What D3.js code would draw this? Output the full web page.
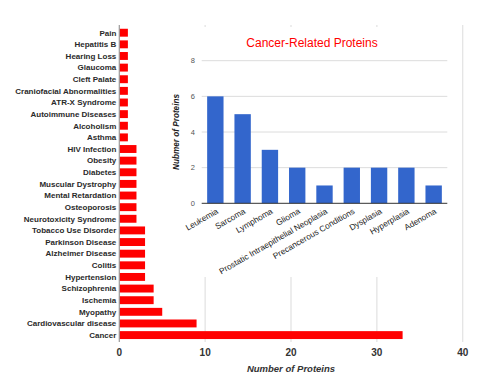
<!DOCTYPE html>
<html><head><meta charset="utf-8">
<script src="https://cdn.jsdelivr.net/npm/d3@7"></script>
<style>body{margin:0;background:#fff}svg{display:block}</style>
</head><body>
<svg id="c" width="490" height="380"></svg>
<script>
const diseases = ["Pain","Hepatitis B","Hearing Loss","Glaucoma","Cleft Palate","Craniofacial Abnormalities","ATR-X Syndrome","Autoimmune Diseases","Alcoholism","Asthma","HIV Infection","Obesity","Diabetes","Muscular Dystrophy","Mental Retardation","Osteoporosis","Neurotoxicity Syndrome","Tobacco Use Disorder","Parkinson Disease","Alzheimer Disease","Colitis","Hypertension","Schizophrenia","Ischemia","Myopathy","Cardiovascular disease","Cancer"];
const diseaseCounts = [1,1,1,1,1,1,1,1,1,1,2,2,2,2,2,2,2,3,3,3,3,3,4,4,5,9,33];
const mainTicks = [0,10,20,30,40];

const cancers = ["Leukemia","Sarcoma","Lymphoma","Glioma","Prostatic Intraepithelial Neoplasia","Precancerous Conditions","Dysplasia","Hyperplasia","Adenoma"];
const cancerCounts = [6,5,3,2,1,2,2,2,1];
const insetTicks = [0,2,4,6,8];

const svg = d3.select("#c");
const font = "Liberation Sans, Arial, sans-serif";

// main chart
const x = d3.scaleLinear().domain([0,40]).range([119.3,462.7]);
const y = d3.scaleBand().domain(diseases).range([26.9,340.9]).paddingInner(0.32).paddingOuter(0.16);

// grid
svg.append("g").selectAll("line").data(mainTicks.slice(1)).join("line")
  .attr("x1",d=>x(d)).attr("x2",d=>x(d)).attr("y1",25).attr("y2",342)
  .attr("stroke","#e4e4e4").attr("stroke-width",1.3);

// bars
svg.append("g").selectAll("rect").data(diseases).join("rect")
  .attr("x",x(0)).attr("y",d=>y(d))
  .attr("width",(d,i)=>x(diseaseCounts[i])-x(0))
  .attr("height",y.bandwidth())
  .attr("fill","#ff0000");

// axis line
svg.append("line").attr("x1",x(0)).attr("x2",x(0)).attr("y1",25).attr("y2",342)
  .attr("stroke","#9a9a9a").attr("stroke-width",1.2);

// category labels
svg.append("g").selectAll("text").data(diseases).join("text")
  .attr("x",x(0)-3).attr("y",d=>y(d)+y.bandwidth()/2)
  .attr("dy","0.35em").attr("text-anchor","end")
  .attr("font-family",font).attr("font-weight","bold").attr("font-size",8)
  .attr("fill","#2a2a2a").text(d=>d);

// x tick labels
svg.append("g").selectAll("text").data(mainTicks).join("text")
  .attr("x",d=>x(d)).attr("y",356).attr("text-anchor","middle")
  .attr("font-family",font).attr("font-weight","bold").attr("font-size",10)
  .attr("fill","#333").text(d=>d);

svg.append("text").attr("x",291).attr("y",372).attr("text-anchor","middle")
  .attr("font-family",font).attr("font-weight","bold").attr("font-style","italic")
  .attr("font-size",9.5).attr("fill","#333").text("Number of Proteins");

// inset
const inset = svg.append("g");
inset.append("rect").attr("x",162).attr("y",27).attr("width",294).attr("height",250).attr("fill","#fff");

const xi = d3.scaleBand().domain(cancers).range([201.7,447.3]).paddingInner(0.4).paddingOuter(0.2);
const yi = d3.scaleLinear().domain([0,8]).range([203.3,60.7]);

inset.append("text").attr("x",312).attr("y",47).attr("text-anchor","middle")
  .attr("font-family",font).attr("font-size",12).attr("fill","#ff0000")
  .text("Cancer-Related Proteins");

inset.append("g").selectAll("line").data(insetTicks.slice(1)).join("line")
  .attr("x1",201.7).attr("x2",447.3).attr("y1",d=>yi(d)).attr("y2",d=>yi(d))
  .attr("stroke","#dcdcdc").attr("stroke-width",1);

inset.append("g").selectAll("text").data(insetTicks).join("text")
  .attr("x",195).attr("y",d=>yi(d)).attr("dy","0.35em").attr("text-anchor","end")
  .attr("font-family",font).attr("font-size",7.5).attr("fill","#555").text(d=>d);

inset.append("g").selectAll("rect").data(cancers).join("rect")
  .attr("x",d=>xi(d)).attr("y",(d,i)=>yi(cancerCounts[i]))
  .attr("width",xi.bandwidth()).attr("height",(d,i)=>yi(0)-yi(cancerCounts[i]))
  .attr("fill","#3366cc");

inset.append("line").attr("x1",201.7).attr("x2",447.3).attr("y1",yi(0)).attr("y2",yi(0))
  .attr("stroke","#333").attr("stroke-width",1);

inset.append("g").selectAll("text").data(cancers).join("text")
  .attr("transform",d=>`translate(${xi(d)+xi.bandwidth()/2+2},${yi(0)+7}) rotate(-30)`)
  .attr("text-anchor","end").attr("dy","0.35em")
  .attr("font-family",font).attr("font-size",8.3).attr("fill","#1a1a1a").text(d=>d);

inset.append("text").attr("transform","translate(176,132) rotate(-90)")
  .attr("text-anchor","middle").attr("dy","0.35em")
  .attr("font-family",font).attr("font-weight","bold").attr("font-style","italic")
  .attr("font-size",8.2).attr("fill","#222").text("Nubmer of Proteins");
</script>
</body></html>
